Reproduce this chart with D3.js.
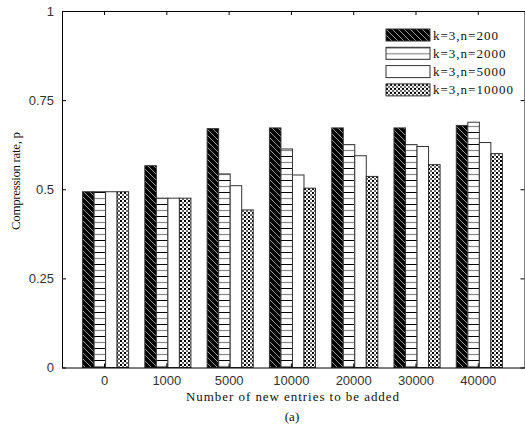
<!DOCTYPE html>
<html>
<head>
<meta charset="utf-8">
<title>Compression rate</title>
<script src="https://cdn.jsdelivr.net/npm/d3@7"></script>
<style>
body{ margin:0; background:#fff; }
.tick text{ font-family:"Liberation Sans", Arial, sans-serif; font-size:13px; fill:#333; }
.lbl{ font-family:"Liberation Serif", "Times New Roman", serif; font-size:13px; fill:#111; }
.bar{ stroke:#333; stroke-width:1px; }
</style>
</head>
<body>
<div id="chart"></div>
<script>
var categories = ['0', '1000', '5000', '10000', '20000', '30000', '40000'],
    series     = ['k=3,n=200', 'k=3,n=2000', 'k=3,n=5000', 'k=3,n=10000'],
    n200       = [0.493, 0.566, 0.670, 0.672, 0.672, 0.672, 0.679],
    n2000      = [0.493, 0.475, 0.543, 0.613, 0.625, 0.625, 0.688],
    n5000      = [0.493, 0.475, 0.510, 0.540, 0.594, 0.620, 0.631],
    n10000     = [0.493, 0.475, 0.442, 0.503, 0.536, 0.569, 0.600],
    yTicks     = [0, 0.25, 0.5, 0.75, 1],
    yTickText  = ['0', '0.25', '0.5', '0.75', '1'];

var values = [n200, n2000, n5000, n10000],
    fills  = ['url(#pDiag)', 'url(#pHoriz)', '#fff', 'url(#pCheck)'];

var W = 525, H = 431,
    pLeft = 62, pRight = 524.5, pTop = 11, pBottom = 367.5;

var svg = d3.select('#chart').append('svg')
    .attr('width', W)
    .attr('height', H);

// hatch patterns
var defs = svg.append('defs');
var pd = defs.append('pattern').attr('id', 'pDiag').attr('patternUnits', 'userSpaceOnUse')
    .attr('width', 6).attr('height', 6);
pd.append('rect').attr('width', 6).attr('height', 6).attr('fill', '#000');
pd.append('path').attr('d', 'M-1,-1L7,7M-1,5L1,7M5,-1L7,1').attr('stroke', '#999').attr('stroke-width', 1);

var ph = defs.append('pattern').attr('id', 'pHoriz').attr('patternUnits', 'userSpaceOnUse')
    .attr('width', 12).attr('height', 12);
ph.append('rect').attr('width', 12).attr('height', 12).attr('fill', '#fff');
ph.append('path').attr('d', 'M0,0.5H12').attr('stroke', '#000').attr('stroke-width', 1);
ph.append('path').attr('d', 'M0,6.5H12').attr('stroke', '#888').attr('stroke-width', 1.2);

var pc = defs.append('pattern').attr('id', 'pCheck').attr('patternUnits', 'userSpaceOnUse')
    .attr('width', 4).attr('height', 4);
pc.append('rect').attr('width', 4).attr('height', 4).attr('fill', '#fff');
pc.append('rect').attr('x', 0).attr('y', 0).attr('width', 2).attr('height', 2).attr('fill', '#000');
pc.append('rect').attr('x', 2).attr('y', 2).attr('width', 2).attr('height', 2).attr('fill', '#666');

var x = d3.scaleLinear().domain([0.325, 7.75]).range([pLeft, pRight]);
var y = d3.scaleLinear().domain([0, 1]).range([pBottom, pTop]);
var inner = d3.scaleBand().domain(series).range([-0.345, 0.395]);
var bw = x(inner.bandwidth()) - x(0);

// bars
var groups = svg.append('g').selectAll('g')
    .data(series)
    .enter().append('g');
groups.each(function(s, j) {
    d3.select(this).selectAll('rect')
        .data(values[j])
        .enter().append('rect')
        .attr('class', 'bar')
        .attr('x', function(d, i) { return x(i + 1 + inner(s)); })
        .attr('y', function(d) { return y(d); })
        .attr('width', bw)
        .attr('height', function(d) { return y(0) - y(d); })
        .attr('fill', fills[j]);
});

// axes, box style with inward ticks
var xt = d3.range(1, categories.length + 1);
var xB = d3.axisBottom(x).tickValues(xt).tickSizeInner(-4).tickSizeOuter(0).tickPadding(8)
    .tickFormat(function(d) { return categories[d - 1]; });
var xT = d3.axisTop(x).tickValues(xt).tickSizeInner(-4).tickSizeOuter(0).tickFormat('');
var yL = d3.axisLeft(y).tickValues(yTicks).tickSizeInner(-4).tickSizeOuter(0).tickPadding(8)
    .tickFormat(function(d, i) { return yTickText[i]; });
var yR = d3.axisRight(y).tickValues(yTicks).tickSizeInner(-4).tickSizeOuter(0).tickFormat('');

svg.append('g').attr('transform', 'translate(0,' + pBottom + ')').call(xB);
svg.append('g').attr('transform', 'translate(0,' + pTop + ')').call(xT);
svg.append('g').attr('transform', 'translate(' + pLeft + ',0)').call(yL);
svg.append('g').attr('transform', 'translate(' + pRight + ',0)').call(yR);
svg.selectAll('.domain').attr('stroke', '#000');
svg.selectAll('.tick line').attr('stroke', '#000');

// labels
svg.append('text').attr('class', 'lbl')
    .attr('x', 292.5).attr('y', 401)
    .attr('text-anchor', 'middle')
    .attr('textLength', 213).attr('lengthAdjust', 'spacing')
    .text('Number of new entries to be added');
svg.append('text').attr('class', 'lbl')
    .attr('x', 292).attr('y', 421)
    .attr('text-anchor', 'middle')
    .text('(a)');
svg.append('text').attr('class', 'lbl')
    .attr('transform', 'translate(20,181) rotate(-90)')
    .attr('text-anchor', 'middle')
    .attr('textLength', 98).attr('lengthAdjust', 'spacing')
    .text('Compression rate, p');

// legend
var leg = svg.append('g').attr('transform', 'translate(386,29)');
var row = leg.selectAll('g').data(series).enter().append('g')
    .attr('transform', function(d, i) { return 'translate(0,' + (i * 18.3) + ')'; });
row.append('rect')
    .attr('class', 'bar')
    .attr('width', 44).attr('height', 12)
    .attr('fill', function(d, i) { return fills[i]; });
row.append('text').attr('class', 'lbl')
    .attr('x', 47).attr('y', 10.5)
    .style('letter-spacing', '1px')
    .text(function(d) { return d; });
</script>
</body>
</html>
